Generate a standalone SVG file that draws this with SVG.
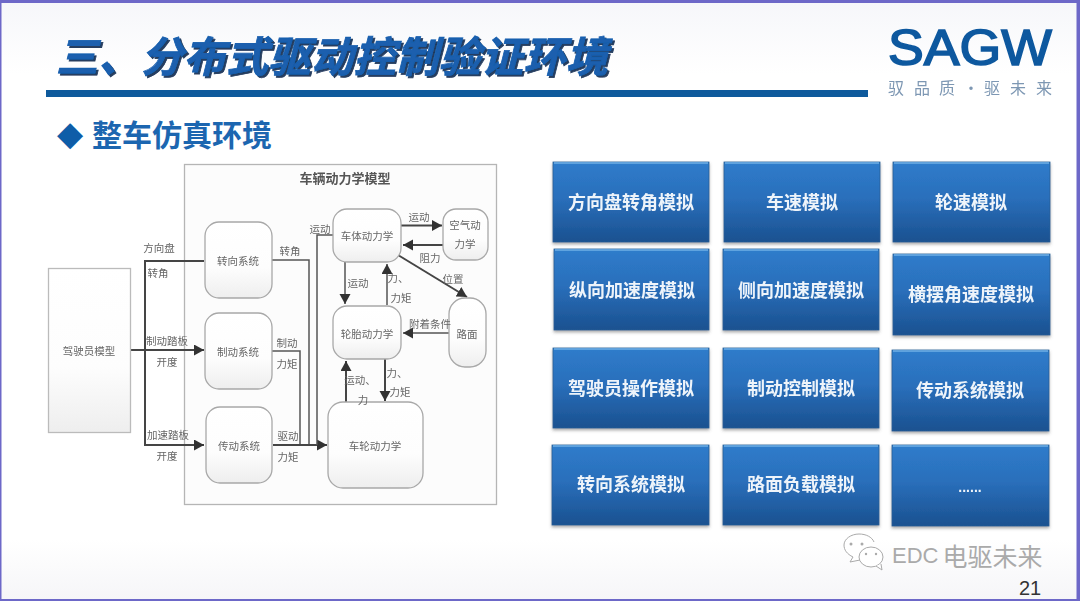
<svg xmlns="http://www.w3.org/2000/svg" width="1080" height="601" viewBox="0 0 1080 601">
<style>
text{font-family:"Noto Sans CJK SC","Liberation Sans",sans-serif;dominant-baseline:central}
.lb{font-size:10.5px;fill:#666;text-anchor:middle}
.nd{font-size:10.5px;fill:#666;text-anchor:middle}
.rr{fill:url(#ng);stroke:#a8a8a8;stroke-width:1.3}
.sq{fill:url(#ng);stroke:#bbb;stroke-width:1.3}
.bb{fill:url(#bg);stroke:#2a5f96;stroke-width:.8}
.tp{fill:none;stroke:#6fb0e6;stroke-width:1.6}
.bt{font-size:18px;font-weight:700;fill:#eef4fa;text-anchor:middle}
.c{fill:none;stroke:#555;stroke-width:1.5}
.h{stroke:#444;stroke-width:2}
</style>
<defs>
<linearGradient id="ng" x1="0" y1="0" x2="0" y2="1"><stop offset="0" stop-color="#fff"/><stop offset=".6" stop-color="#fdfdfd"/><stop offset="1" stop-color="#eee"/></linearGradient>
<linearGradient id="bg" x1="0" y1="0" x2="0" y2="1"><stop offset="0" stop-color="#2f7ccb"/><stop offset=".45" stop-color="#2a6fbb"/><stop offset="1" stop-color="#1a5190"/></linearGradient>
<linearGradient id="pg" x1="0" y1="0" x2="0" y2="1"><stop offset="0" stop-color="#f6f7fa"/><stop offset=".12" stop-color="#fff"/><stop offset=".9" stop-color="#fff"/><stop offset="1" stop-color="#f6f6f8"/></linearGradient>
<filter id="s" x="-5%" y="-5%" width="110%" height="110%"><feGaussianBlur stdDeviation=".6"/></filter>
<filter id="bs" x="-5%" y="-5%" width="110%" height="115%"><feGaussianBlur in="SourceGraphic" stdDeviation=".45" result="b"/><feDropShadow in="b" dx="0" dy="2" stdDeviation="1.5" flood-color="#555" flood-opacity=".5"/></filter>
<filter id="ts" x="-5%" y="-20%" width="110%" height="140%"><feGaussianBlur in="SourceGraphic" stdDeviation=".35" result="b"/><feDropShadow in="b" dx="2" dy="2" stdDeviation=".6" flood-color="#102a50" flood-opacity=".9"/></filter>
<marker id="a" markerUnits="userSpaceOnUse" markerWidth="11" markerHeight="12" refX="10" refY="5.5" orient="auto"><path d="M0 0L10 5.5L0 11z" fill="#333"/></marker>
</defs>
<rect width="1080" height="601" fill="#6d68c8"/>
<rect x="1.5" y="3" width="1075" height="596" fill="url(#pg)"/>

<g id="title">
<text x="56" y="53" font-size="42" font-weight="700" font-style="italic" letter-spacing=".5" fill="#1a5fae" stroke="#1a5fae" stroke-width=".8" filter="url(#ts)">三、分布式驱动控制验证环境</text>
<rect x="46" y="90" width="822" height="7" fill="#0e5a9c"/>
</g>
<g id="logo" filter="url(#s)">
<text x="888" y="48" font-size="50" textLength="164" lengthAdjust="spacingAndGlyphs" fill="#11599f" stroke="#11599f" stroke-width="1.6" style="font-family:'Liberation Sans',sans-serif">SAGW</text>
<text x="888 914 939 963 984 1010 1036" y="87" font-size="16" fill="#7d97b3">驭品质·驱未来</text>
</g>
<g id="subtitle">
<text x="57" y="133" font-size="34" fill="#0e5da8" style="font-family:'DejaVu Sans',sans-serif">◆</text>
<text x="92" y="133" font-size="30" font-weight="700" fill="#1c66b0">整车仿真环境</text>
</g>

<g filter="url(#s)">
<rect id="vehicle-frame" x="184.500" y="164.500" width="312" height="340" fill="#fcfcfc" stroke="#b5b5b5" stroke-width="1.300"/>
<text class="lb" x="345" y="177" style="font-size:13px;font-weight:700;fill:#555">车辆动力学模型</text>

<g id="connectors">
<path class="c h" d="M130 350H204" marker-end="url(#a)"/>
<path class="c h" d="M204 261H145V445H204" marker-end="url(#a)"/>
<path class="c" d="M272 260H309V445"/>
<path class="c" d="M272 351H300V445"/>
<path class="c h" d="M273 445H327" marker-end="url(#a)"/>
<path class="c" d="M333 235H317V445"/>
<path class="c h" d="M401 225.500H442" marker-end="url(#a)"/>
<path class="c h" d="M443 245H403" marker-end="url(#a)"/>
<path class="c h" d="M398 255L467 297" marker-end="url(#a)"/>
<path class="c" d="M345 262V304" marker-end="url(#a)"/>
<path class="c" d="M387 305V264" marker-end="url(#a)"/>
<path class="c" d="M449 333H403" marker-end="url(#a)"/>
<path class="c h" d="M346 402V361" marker-end="url(#a)"/>
<path class="c h" d="M385 359V401" marker-end="url(#a)"/>
</g>

<g id="driver-model"><rect class="sq" x="48.500" y="268.500" width="82" height="164"/><text class="nd" x="89" y="350">驾驶员模型</text></g>
<g id="steering-system"><rect class="rr" x="205" y="222" width="67" height="76" rx="14"/><text class="nd" x="238" y="260">转向系统</text></g>
<g id="brake-system"><rect class="rr" x="205" y="313" width="67" height="76" rx="14"/><text class="nd" x="238" y="351">制动系统</text></g>
<g id="drive-system"><rect class="rr" x="206" y="407" width="66" height="76" rx="14"/><text class="nd" x="239" y="445">传动系统</text></g>
<g id="body-dynamics"><rect class="rr" x="333" y="209" width="68" height="53" rx="14"/><text class="nd" x="367" y="235">车体动力学</text></g>
<g id="aero-dynamics"><rect class="rr" x="443" y="209" width="45" height="51" rx="13"/><text class="nd" x="465" y="224">空气动</text><text class="nd" x="465" y="243">力学</text></g>
<g id="tire-dynamics"><rect class="rr" x="333" y="306" width="68" height="53" rx="14"/><text class="nd" x="367" y="333">轮胎动力学</text></g>
<g id="road"><rect class="rr" x="449" y="298" width="37" height="69" rx="16"/><text class="nd" x="467" y="333">路面</text></g>
<g id="wheel-dynamics"><rect class="rr" x="328" y="402" width="95" height="86" rx="15"/><text class="nd" x="375" y="445">车轮动力学</text></g>

<g id="connector-labels">
<text class="lb" x="159" y="247">方向盘</text><text class="lb" x="158" y="272">转角</text>
<text class="lb" x="167" y="340">制动踏板</text><text class="lb" x="167" y="361">开度</text>
<text class="lb" x="168" y="434">加速踏板</text><text class="lb" x="167" y="455">开度</text>
<text class="lb" x="290" y="250">转角</text>
<text class="lb" x="287" y="342">制动</text><text class="lb" x="287" y="363">力矩</text>
<text class="lb" x="288" y="435">驱动</text><text class="lb" x="288" y="456">力矩</text>
<text class="lb" x="320" y="228">运动</text>
<text class="lb" x="419" y="216">运动</text>
<text class="lb" x="430" y="257">阻力</text>
<text class="lb" x="453" y="278">位置</text>
<text class="lb" x="358" y="282">运动</text>
<text class="lb" x="398" y="277">力、</text><text class="lb" x="401" y="297">力矩</text>
<text class="lb" x="430" y="323">附着条件</text>
<text class="lb" x="360" y="379">运动、</text><text class="lb" x="363" y="399">力</text>
<text class="lb" x="397" y="372">力、</text><text class="lb" x="400" y="391">力矩</text>
</g>
</g>

<g id="sim-steering-angle" filter="url(#bs)"><rect class="bb" x="553" y="162" width="156" height="80"/><path class="tp" d="M554 163H708"/><text class="bt" x="631" y="201">方向盘转角模拟</text></g>
<g id="sim-speed" filter="url(#bs)"><rect class="bb" x="724" y="162" width="156" height="80"/><path class="tp" d="M725 163H879"/><text class="bt" x="802" y="201">车速模拟</text></g>
<g id="sim-wheel-speed" filter="url(#bs)"><rect class="bb" x="893" y="162" width="157" height="80"/><path class="tp" d="M894 163H1049"/><text class="bt" x="971" y="201">轮速模拟</text></g>
<g id="sim-long-accel" filter="url(#bs)"><rect class="bb" x="554" y="249" width="155" height="81"/><path class="tp" d="M555 250H708"/><text class="bt" x="632" y="289">纵向加速度模拟</text></g>
<g id="sim-lat-accel" filter="url(#bs)"><rect class="bb" x="723" y="249" width="156" height="81"/><path class="tp" d="M724 250H878"/><text class="bt" x="801" y="289">侧向加速度模拟</text></g>
<g id="sim-yaw-rate" filter="url(#bs)"><rect class="bb" x="893" y="254" width="157" height="81"/><path class="tp" d="M894 255H1049"/><text class="bt" x="971" y="293">横摆角速度模拟</text></g>
<g id="sim-driver" filter="url(#bs)"><rect class="bb" x="553" y="348" width="156" height="80"/><path class="tp" d="M554 349H708"/><text class="bt" x="631" y="387">驾驶员操作模拟</text></g>
<g id="sim-brake" filter="url(#bs)"><rect class="bb" x="723" y="348" width="156" height="80"/><path class="tp" d="M724 349H878"/><text class="bt" x="801" y="387">制动控制模拟</text></g>
<g id="sim-drivetrain" filter="url(#bs)"><rect class="bb" x="892" y="350" width="157" height="81"/><path class="tp" d="M893 351H1048"/><text class="bt" x="970" y="389">传动系统模拟</text></g>
<g id="sim-steering" filter="url(#bs)"><rect class="bb" x="552" y="445" width="157" height="80"/><path class="tp" d="M553 446H708"/><text class="bt" x="631" y="483">转向系统模拟</text></g>
<g id="sim-road" filter="url(#bs)"><rect class="bb" x="723" y="445" width="156" height="80"/><path class="tp" d="M724 446H878"/><text class="bt" x="801" y="483">路面负载模拟</text></g>
<g id="sim-more" filter="url(#bs)"><rect class="bb" x="892" y="445" width="157" height="81"/><path class="tp" d="M893 446H1048"/><text class="bt" x="970" y="487" style="font-size:14px;font-family:'Liberation Sans',sans-serif">......</text></g>

<g id="watermark">
<g fill="#fff" stroke="#aaa" stroke-width="1"><path d="M860 560l-10 2 3-5c-6-3-9-7-9-12 0-6 7-11 15-11 7 0 13 3 15 8"/><ellipse cx="871" cy="557" rx="12" ry="10"/><path d="M876 566l6 4-1-6"/></g>
<g fill="#aaa"><circle cx="851" cy="544" r="1.500"/><circle cx="862" cy="544" r="1.500"/><circle cx="866" cy="554" r="1.200"/><circle cx="876" cy="554" r="1.200"/></g>
<text x="892" y="555" font-size="25" fill="#aaa"><tspan font-size="22" style="font-family:'Liberation Sans',sans-serif">EDC</tspan><tspan dx="4">电驱未来</tspan></text>
</g>
<text id="page-number" x="1019" y="588" font-size="20" fill="#333" style="font-family:'Liberation Sans',sans-serif">21</text>
</svg>
